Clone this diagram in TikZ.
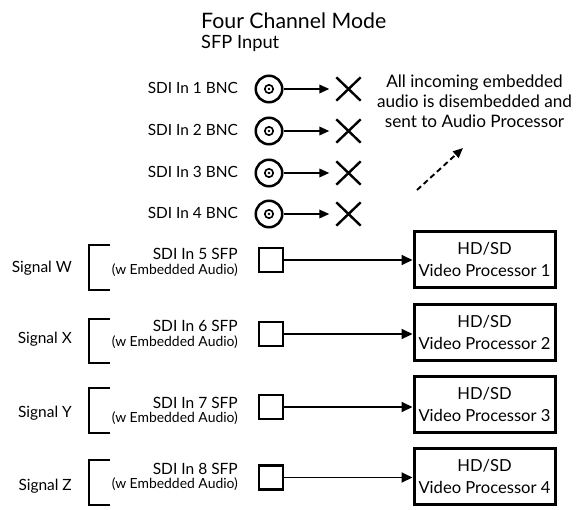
\documentclass[tikz,border=0pt]{standalone}
\usepackage{fontspec}
\setmainfont{Lato}
\usetikzlibrary{arrows.meta,shapes.misc}
\newlength\tmpw
\newcommand\getfs[3]{\settowidth\tmpw{\normalfont\fontsize{10pt}{12pt}\selectfont #3}\pgfmathsetmacro#1{10*#2/\tmpw}\global\let#1#1}
\AtBeginDocument{%
\getfs\fT{185}{Four Channel Mode}%
\getfs\fS{78}{SFP Input}%
\getfs\fB{90}{SDI In 1 BNC}%
\getfs\fD{195}{audio is disembedded and}%
\getfs\fG{60}{Signal W}%
\getfs\fI{85}{SDI In 5 SFP}%
\getfs\fE{126}{(w Embedded Audio)}%
\getfs\fP{132}{Video Processor 1}%
\pgfmathsetmacro\fPb{1.32*\fP}\global\let\fPb\fPb
}
\newcommand\fsz[1]{\pgfmathsetmacro\fszb{1.2*#1}\fontsize{#1}{\fszb}\selectfont}
\newcommand\fszP{\fontsize{\fP}{\fPb}\selectfont}
\tikzset{
  txt/.style={inner sep=0pt},
  bnc/.style={circle, draw, line width=2.5pt, minimum size=26.5pt, inner sep=0pt},
  xmark/.style={cross out, draw, line width=2.4pt, minimum width=22pt, minimum height=21pt, inner sep=0pt},
  sfp/.style={rectangle, draw, line width=2.5pt, minimum width=24pt, minimum height=24pt, inner sep=0pt},
  proc/.style={rectangle, draw, line width=3pt, minimum width=141pt, minimum height=56pt, inner sep=0pt, align=center, font=\fszP},
  arr/.style={line width=1.9pt, -{Triangle[length=11pt,width=10pt]}},
  sarr/.style={line width=1.9pt, -{Triangle[length=10pt,width=8.5pt]}},
  brk/.style={line width=2.4pt},
}
\begin{document}
\begin{tikzpicture}[x=1pt,y=-1pt]
\useasboundingbox (0,0) rectangle (581,509);
\node[txt, anchor=base west, font={\fsz{\fT}}] (title) at (201,28.3) {Four Channel Mode};
\node[txt, anchor=base west, font={\fsz{\fS}}] (sub) at (201,48.3) {SFP Input};
\foreach \i/\y in {1/88,2/130,3/172,4/213}{
  \node[txt, anchor=base east, font={\fsz{\fB}}] (l\i) at (238,\y+0.358*\fB) {SDI In \i\ BNC};
  \node[bnc] (b\i) at (269,\y+1) {};
  \draw[line width=1.6pt] (b\i.center) circle (4.2pt);
  \fill (b\i.center) circle (1.3pt);
  \node[xmark] (x\i) at (348.5,\y+1) {};
  \draw[sarr, shorten >=7pt] (b\i) -- (x\i);
}
\foreach \k/\y/\t in {1/81.7/All incoming embedded,2/101.7/audio is disembedded and,3/121.7/sent to Audio Processor}{
  \node[txt, anchor=base, font={\fsz{\fD}}] (desc\k) at (474.5,\y+0.358*\fD) {\t};
}
\coordinate (d1) at (417,190);
\coordinate (d2) at (463,148);
\draw[line width=1.9pt, dash pattern=on 5.5pt off 3.5pt, -{Triangle[length=10pt,width=8.5pt]}] (d1) -- (d2);
\foreach \i/\ay/\by/\sy/\bt/\bb/\dy/\ey/\s in {5/260/259.5/267/245/290/254/270/W,6/334/332.5/338/319/363/326/342.5/X,7/407/404.3/412/388/433/402.5/418/Y,8/477.5/476.8/485/460/505/469/484.5/Z}{
  \node[txt, anchor=base east, font={\fsz{\fG}}] (sig\i) at (72,\sy+0.358*\fG) {Signal \s};
  \draw[brk] (110,\bt) -- (89,\bt) -- (89,\bb) -- (110,\bb);
  \node[txt, anchor=base east, font={\fsz{\fI}}] (sdi\i) at (238,\dy+0.358*\fI) {SDI In \i\ SFP};
  \node[txt, anchor=east, font={\fsz{\fE}}] (emb\i) at (238,\ey) {(w Embedded Audio)};
  \node[sfp] (s\i) at (271,\ay) {};
  \pgfmathtruncatemacro{\n}{\i-4}
  \node[proc] (p\i) at (484.5,\by) {HD/SD\\ Video Processor \n};
  \draw[arr] (s\i) -- (p\i.west |- s\i);
}
\end{tikzpicture}
\end{document}
